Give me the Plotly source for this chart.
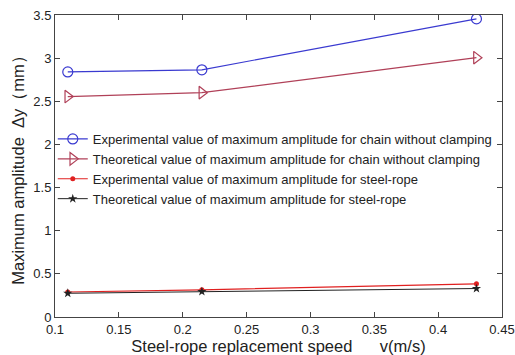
import plotly.graph_objects as go

speed = [0.11, 0.215, 0.43]
exp_chain = [2.84, 2.865, 3.455]
theo_chain = [2.555, 2.60, 3.005]
exp_rope = [0.29, 0.315, 0.385]
theo_rope = [0.275, 0.295, 0.33]

names = [
    "Experimental value of maximum amplitude for chain without clamping",
    "Theoretical value of maximum amplitude for chain without clamping",
    "Experimental value of maximum amplitude for steel-rope",
    "Theoretical value of maximum amplitude for steel-rope",
]

FONT = "Arial, Liberation Sans, sans-serif"

fig = go.Figure()
fig.add_trace(go.Scatter(x=speed, y=exp_chain, name=names[0], mode="lines+markers",
                         line=dict(color="#3a3ad0", width=1.2),
                         marker=dict(symbol="circle-open", size=10, color="#3a3ad0", line=dict(width=1.2))))
fig.add_trace(go.Scatter(x=speed, y=theo_chain, name=names[1], mode="lines+markers",
                         line=dict(color="#b04058", width=1.2),
                         marker=dict(symbol="triangle-right-open", size=11, color="#b04058", line=dict(width=1.2))))
fig.add_trace(go.Scatter(x=speed, y=exp_rope, name=names[2], mode="lines+markers",
                         line=dict(color="#e02020", width=1.2),
                         marker=dict(symbol="circle", size=5, color="#e02020")))
fig.add_trace(go.Scatter(x=speed, y=theo_rope, name=names[3], mode="lines+markers",
                         line=dict(color="#222222", width=1.0),
                         marker=dict(symbol="star", size=7, color="#222222")))

axis_common = dict(showline=True, linecolor="#444", linewidth=1, mirror="ticks",
                   ticks="inside", ticklen=5, tickcolor="#444", showgrid=False, zeroline=False,
                   automargin=False,
                   tickfont=dict(family=FONT, size=13, color="#222"))

fig.update_layout(
    width=515, height=355,
    margin=dict(l=55, r=13, t=15, b=38),
    paper_bgcolor="white", plot_bgcolor="white",
    showlegend=True,
    legend=dict(x=-0.005, y=0.49, xanchor="left", yanchor="middle", bgcolor="rgba(0,0,0,0)",
                font=dict(family=FONT, size=13, color="#222"),
                tracegroupgap=0, itemwidth=30),
    xaxis=dict(range=[0.1, 0.45],
               tickvals=[0.1, 0.15, 0.2, 0.25, 0.3, 0.35, 0.4, 0.45],
               ticktext=["0.1", "0.15", "0.2", "0.25", "0.3", "0.35", "0.4", "0.45"],
               title=dict(text="Steel-rope replacement speed      v(m/s)", standoff=0,
                          font=dict(family=FONT, size=16.5, color="#222")),
               **axis_common),
    yaxis=dict(range=[0, 3.5],
               tickvals=[0, 0.5, 1, 1.5, 2, 2.5, 3, 3.5],
               ticktext=["0", "0.5", "1", "1.5", "2", "2.5", "3", "3.5"],
               title=dict(text="Maximum amplitude  Δy（mm）", standoff=4,
                          font=dict(family=FONT, size=16.5, color="#222")),
               **axis_common),
)

fig.write_html("out.html")
